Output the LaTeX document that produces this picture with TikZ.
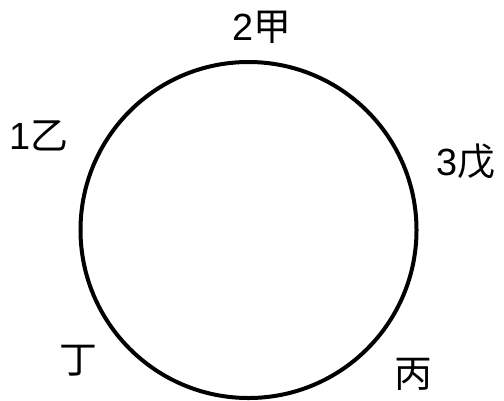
\documentclass[tikz,border=0pt]{standalone}
\usepackage{fontspec}
\setmainfont{Liberation Sans}
\newfontfamily\cjk{Noto Sans CJK SC}
\usetikzlibrary{positioning}

\begin{document}
\begin{tikzpicture}[
  x=1bp,y=-1bp,
  ring/.style={draw,circle,line width=4bp,minimum size=336bp,inner sep=0pt},
  lbl/.style={font=\fontsize{38}{42}\selectfont,inner sep=0pt,anchor=center}
]
\useasboundingbox (0,0) rectangle (504,400);
\node[ring] (c) at (248.5,230) {};

\node[lbl] (jia)  at (262,27)  {2{\cjk 甲}};
\node[lbl] (yi)   at (39,136)  {1{\cjk 乙}};
\node[lbl] (wu)   at (466,162) {3{\cjk 戊}};
\node[lbl] (ding) at (78,361)  {{\cjk 丁}};
\node[lbl] (bing) at (413,374) {{\cjk 丙}};
\end{tikzpicture}
\end{document}
